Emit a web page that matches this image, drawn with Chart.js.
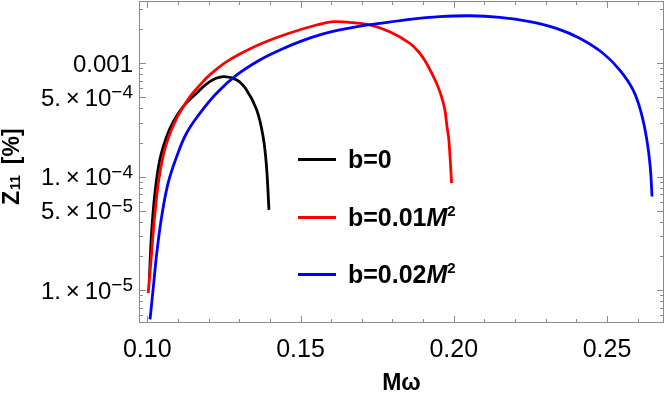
<!DOCTYPE html>
<html>
<head>
<meta charset="utf-8">
<script src="https://cdn.jsdelivr.net/npm/chart.js@4.4.1/dist/chart.umd.min.js"></script>
<style>
  html, body { margin: 0; padding: 0; background: #fff; }
  #wrap { width: 664px; height: 403px; position: relative; }
</style>
</head>
<body>
<div id="wrap"><canvas id="grafico"></canvas></div>
<script>
// etiquetas y colores de las series
const seriesLabels = ['b=0', 'b=0.01M^2', 'b=0.02M^2'];
const seriesColors = ['#000000', '#ff0000', '#0000ff'];

// b = 0
const xB0 = [0.1007, 0.1014, 0.1025, 0.1041, 0.1063, 0.1085, 0.1117, 0.1161, 0.1204, 0.1248,
             0.1292, 0.1324, 0.1357, 0.1378, 0.1389, 0.1397];
const yB0 = [1.28e-5, 3.18e-5, 7.16e-5, 1.41e-4, 2.25e-4, 3.06e-4, 4.15e-4, 5.44e-4, 6.89e-4, 7.62e-4,
             7.13e-4, 5.82e-4, 3.88e-4, 2.25e-4, 1.23e-4, 5.1e-5];

// b = 0.01 M^2
const xB1 = [0.1003, 0.1014, 0.1025, 0.1041, 0.1063, 0.1096, 0.1139, 0.1172, 0.1204, 0.1253,
             0.1302, 0.1377, 0.1465, 0.1552, 0.1607, 0.1661, 0.1726, 0.1791, 0.1857, 0.1889,
             0.1911, 0.1944, 0.1960, 0.1971, 0.1978, 0.1984, 0.1993];
const yB1 = [9.41e-6, 2.12e-5, 4.77e-5, 1.074e-4, 1.973e-4, 3.276e-4, 5.05e-4, 6.44e-4, 7.89e-4, 1.006e-3,
             1.207e-3, 1.51e-3, 1.849e-3, 2.175e-3, 2.325e-3, 2.297e-3, 2.175e-3, 1.899e-3, 1.5e-3, 1.225e-3,
             1.0e-3, 6.66e-4, 5.08e-4, 3.88e-4, 2.76e-4, 2.11e-4, 8.77e-5];

// b = 0.02 M^2
const xB2 = [0.1009, 0.1020, 0.1031, 0.1047, 0.1068, 0.1096, 0.1128, 0.1172, 0.1226, 0.1292,
             0.1367, 0.1433, 0.1498, 0.1563, 0.1628, 0.1694, 0.1759, 0.1857, 0.1954, 0.2052,
             0.2150, 0.2248, 0.2335, 0.2411, 0.2487, 0.2541, 0.2585, 0.2612, 0.2630, 0.2641, 0.2647];
const yB2 = [5.5e-6, 1.076e-5, 2.12e-5, 4.45e-5, 8.77e-5, 1.503e-4, 2.415e-4, 3.63e-4, 5.44e-4, 7.89e-4,
             1.069e-3, 1.309e-3, 1.552e-3, 1.778e-3, 1.965e-3, 2.123e-3, 2.249e-3, 2.438e-3, 2.576e-3, 2.624e-3,
             2.541e-3, 2.328e-3, 2.032e-3, 1.66e-3, 1.225e-3, 8.73e-4, 5.82e-4, 3.62e-4, 2.11e-4, 1.23e-4, 6.68e-5];

// ticks
const xTickValues = [0.10, 0.15, 0.20, 0.25];
const xTickLabels = ['0.10', '0.15', '0.20', '0.25'];
const xMinorTicks = [0.11, 0.12, 0.13, 0.14, 0.16, 0.17, 0.18, 0.19, 0.21, 0.22, 0.23, 0.24, 0.26];
const yTickValues = [1e-5, 5e-5, 1e-4, 5e-4, 1e-3];
const yTickLabels = ['1.×10^−5', '5.×10^−5', '1.×10^−4', '5.×10^−4', '0.001'];
const yMinorTicks = [];
for (let e = -6; e <= -3; e++) {
    for (let m = 1; m <= 9; m++) {
        const v = m * Math.pow(10, e);
        if (!yTickValues.some(t => Math.abs(t - v) / v < 1e-6)) yMinorTicks.push(v);
    }
}

const FUENTE = '"Liberation Sans", Arial, sans-serif';
const GRIS = '#8a8a8a';

function toPoints(xs, ys) {
    return xs.map((x, i) => ({ x: x, y: ys[i] }));
}

// texto con superindice tipo "1.×10^−4"
function drawSup(ctx, text, xRight, baseY, size, supSize, rise, weight) {
    let [base, sup] = text.split('^');
    base = base.replace('×', '\u2009×\u2009');
    ctx.font = `${weight} ${size}px ${FUENTE}`;
    const w1 = ctx.measureText(base).width;
    let w2 = 0;
    if (sup) {
        ctx.font = `${weight} ${supSize}px ${FUENTE}`;
        w2 = ctx.measureText(sup).width;
    }
    const x0 = xRight - w1 - w2;
    ctx.font = `${weight} ${size}px ${FUENTE}`;
    ctx.fillText(base, x0, baseY);
    if (sup) {
        ctx.font = `${weight} ${supSize}px ${FUENTE}`;
        ctx.fillText(sup, x0 + w1, baseY - rise);
    }
}

// etiqueta de leyenda: "b=0.01M^2" -> b=0.01 + M cursiva + 2 superindice
function drawLegendLabel(ctx, label, x, baseY) {
    const idx = label.indexOf('M^');
    ctx.textAlign = 'left';
    ctx.textBaseline = 'alphabetic';
    ctx.font = `bold 25px ${FUENTE}`;
    if (idx < 0) { ctx.fillText(label, x, baseY); return; }
    const pre = label.slice(0, idx);
    const sup = label.slice(idx + 2);
    ctx.fillText(pre, x, baseY);
    let cx = x + ctx.measureText(pre).width;
    ctx.font = `italic bold 25px ${FUENTE}`;
    ctx.fillText('M', cx, baseY);
    cx += ctx.measureText('M').width;
    ctx.font = `bold 15px ${FUENTE}`;
    ctx.fillText(sup, cx, baseY - 10);
}

const marcoPlugin = {
    id: 'marco',
    afterDraw(chart) {
        const ctx = chart.ctx;
        const a = chart.chartArea;
        const sx = chart.scales.x;
        const sy = chart.scales.y;
        ctx.save();

        // marco
        ctx.strokeStyle = GRIS;
        ctx.lineWidth = 1;
        ctx.strokeRect(a.left + 0.5, a.top + 0.5, a.right - a.left - 1, a.bottom - a.top - 1);

        // ticks hacia dentro
        ctx.beginPath();
        const xt = xTickValues.map(v => [v, 7]).concat(xMinorTicks.map(v => [v, 4]));
        xt.forEach(([v, len]) => {
            const px = Math.round(sx.getPixelForValue(v)) + 0.5;
            ctx.moveTo(px, a.bottom);
            ctx.lineTo(px, a.bottom - len);
            ctx.moveTo(px, a.top);
            ctx.lineTo(px, a.top + len);
        });
        const yt = yTickValues.map(v => [v, 7]).concat(yMinorTicks.map(v => [v, 4]));
        yt.forEach(([v, len]) => {
            if (v < sy.min || v > sy.max) return;
            const py = Math.round(sy.getPixelForValue(v)) + 0.5;
            ctx.moveTo(a.left, py);
            ctx.lineTo(a.left + len, py);
            ctx.moveTo(a.right, py);
            ctx.lineTo(a.right - len, py);
        });
        ctx.stroke();

        ctx.fillStyle = '#000';
        ctx.textBaseline = 'alphabetic';

        // etiquetas eje x
        ctx.textAlign = 'center';
        ctx.font = `25px ${FUENTE}`;
        xTickValues.forEach((v, i) => {
            ctx.fillText(xTickLabels[i], sx.getPixelForValue(v), a.bottom + 34);
        });

        // etiquetas eje y
        ctx.textAlign = 'left';
        yTickValues.forEach((v, i) => {
            const py = sy.getPixelForValue(v);
            drawSup(ctx, yTickLabels[i], a.left - 6, py + 8.5, 24, 19, 7.5, 'normal');
        });

        // titulo eje x
        ctx.textAlign = 'center';
        ctx.font = `bold 23px ${FUENTE}`;
        ctx.fillText('Mω', (a.left + a.right) / 2, 390);

        // titulo eje y (rotado)
        ctx.save();
        ctx.translate(18.5, 205);
        ctx.rotate(-Math.PI / 2);
        ctx.textAlign = 'left';
        ctx.font = `bold 23px ${FUENTE}`;
        ctx.fillText('Z', 0, 0);
        let u = ctx.measureText('Z').width + 1;
        ctx.font = `bold 14px ${FUENTE}`;
        ctx.fillText('11', u, 1);
        u += ctx.measureText('11').width + 11;
        ctx.font = `bold 23px ${FUENTE}`;
        ctx.fillText('[%]', u, 0);
        ctx.restore();

        // leyenda
        const filas = [159.5, 217.5, 274.5];
        chart.data.datasets.forEach((ds, i) => {
            const y = filas[i];
            ctx.strokeStyle = ds.borderColor;
            ctx.lineWidth = 3;
            ctx.beginPath();
            ctx.moveTo(298, y);
            ctx.lineTo(336, y);
            ctx.stroke();
            ctx.fillStyle = '#000';
            drawLegendLabel(ctx, seriesLabels[i], 348, y + 8);
        });

        ctx.restore();
    }
};

const datos = [[xB0, yB0], [xB1, yB1], [xB2, yB2]];

new Chart(document.getElementById('grafico'), {
    type: 'line',
    data: {
        datasets: datos.map(([xs, ys], i) => ({
            label: seriesLabels[i],
            data: toPoints(xs, ys),
            borderColor: seriesColors[i],
            borderWidth: 2.8,
            pointRadius: 0,
            fill: false,
            tension: 0.4,
            borderJoinStyle: 'round',
            order: 3 - i
        }))
    },
    options: {
        responsive: true,
        maintainAspectRatio: false,
        animation: false,
        events: [],
        layout: { padding: { left: 139, right: 0, top: 1, bottom: 80 } },
        plugins: { legend: { display: false }, tooltip: { enabled: false } },
        scales: {
            x: { type: 'linear', display: false, min: 0.0973, max: 0.2686 },
            y: { type: 'logarithmic', display: false, min: 5.12e-6, max: 3.54e-3 }
        }
    },
    plugins: [marcoPlugin]
});
</script>
</body>
</html>
